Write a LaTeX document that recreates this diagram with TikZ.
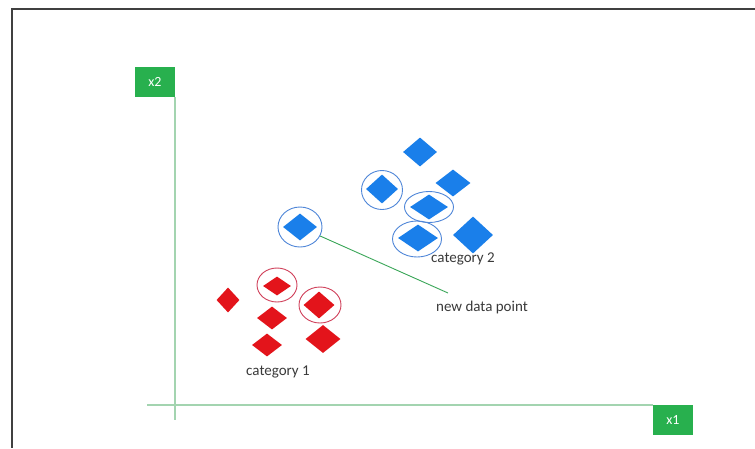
\documentclass[tikz,border=0pt]{standalone}
\usepackage{fontspec}
\setmainfont{Carlito}
\definecolor{ptblue}{HTML}{1A7FEA}
\definecolor{ptred}{HTML}{E3141B}
\definecolor{boxgreen}{HTML}{28B04E}
\definecolor{axisgreen}{HTML}{A3D4B0}
\definecolor{ringred}{HTML}{D0405A}
\definecolor{ringblue}{HTML}{4F86D8}
\definecolor{txtgray}{HTML}{3A3A3A}
\usetikzlibrary{shapes.geometric}
\tikzset{
	bluenode/.style={
			diamond,
			fill=ptblue,
			inner sep=0pt
		},
	rednode/.style={
			diamond,
			fill=ptred,
			inner sep=0pt
		},
	bluering/.style={
			ellipse,
			draw=ringblue,
			line width=0.9pt,
			inner sep=0pt
		},
	redring/.style={
			ellipse,
			draw=ringred,
			line width=0.9pt,
			inner sep=0pt
		},
	axislabel/.style={
			fill=boxgreen,
			text=white,
			font=\fontsize{14}{16}\selectfont,
			minimum width=40pt,
			minimum height=30pt,
			inner sep=0pt
		},
	catlabel/.style={
			text=txtgray,
			font=\fontsize{15}{18}\selectfont,
			inner sep=0pt
		}
}

\begin{document}
\begin{tikzpicture}[x=1pt, y=-1pt]
\useasboundingbox[fill=white] (0,0) rectangle (755,448);

% frame
\draw[line width=1.6pt, black!75] (755,9) -- (12,9) -- (12,448);

% axes
\node[axislabel] (x2) at (155,82) {x2};
\node[axislabel] (x1) at (673,420) {x1};
\coordinate (ytop) at (175,97);
\coordinate (ybot) at (175,420);
\coordinate (xleft) at (147,405);
\coordinate (xright) at (653,405);
\draw[axisgreen, line width=1.5pt] (ytop) -- (ybot);
\draw[axisgreen, line width=1.5pt] (xleft) -- (xright);

% category 2
\node[bluenode, minimum width=34pt, minimum height=29pt] (b1) at (420,152) {};
\node[bluenode, minimum width=35pt, minimum height=27pt] (b2) at (453,183) {};
\node[bluenode, minimum width=32pt, minimum height=29pt] (b3) at (382,189) {};
\node[bluenode, minimum width=38pt, minimum height=25pt] (b4) at (429,207) {};
\node[bluenode, minimum width=40pt, minimum height=27pt] (b5) at (418,238) {};
\node[bluenode, minimum width=40pt, minimum height=37pt] (b6) at (473,235) {};
\node[bluering, minimum width=41pt, minimum height=39pt] (r3) at (382,190) {};
\node[bluering, minimum width=49pt, minimum height=31pt] (r4) at (429,207) {};
\node[bluering, minimum width=49pt, minimum height=36pt] (r5) at (417,239) {};
\node[catlabel] (cat2) at (463,259) {category 2};

% new data point
\node[bluenode, minimum width=34pt, minimum height=27pt] (new) at (300,227) {};
\node[bluering, minimum width=44pt, minimum height=40pt] (newring) at (300,227) {};
\node[catlabel] (newlabel) at (482,307) {new data point};
\coordinate (lineend) at (448,293);
\draw[boxgreen!80!gray, line width=0.9pt] (newring) -- (lineend);

% category 1
\node[rednode, minimum width=23pt, minimum height=25pt] (a1) at (228,300) {};
\node[rednode, minimum width=28pt, minimum height=19pt] (a2) at (277,286) {};
\node[rednode, minimum width=31pt, minimum height=27pt] (a3) at (319,305) {};
\node[rednode, minimum width=30pt, minimum height=23pt] (a4) at (272,318) {};
\node[rednode, minimum width=30pt, minimum height=23pt] (a5) at (267,345) {};
\node[rednode, minimum width=35pt, minimum height=28pt] (a6) at (323,339) {};
\node[redring, minimum width=40pt, minimum height=34pt] (ra2) at (277,285) {};
\node[redring, minimum width=42pt, minimum height=36pt] (ra3) at (320,305) {};
\node[catlabel] (cat1) at (278,372) {category 1};

\end{tikzpicture}
\end{document}
